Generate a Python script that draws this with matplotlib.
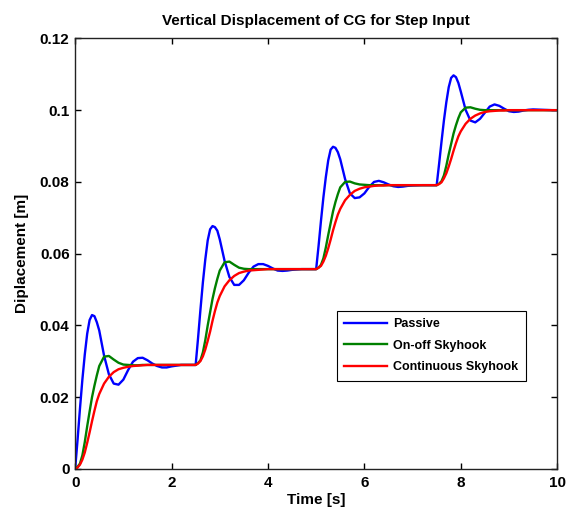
import numpy as np
import matplotlib
matplotlib.use("Agg")
import matplotlib.pyplot as plt
from matplotlib.ticker import FormatStrFormatter

plt.rcParams['font.family'] = ['Liberation Sans', 'DejaVu Sans']
plt.rcParams['font.weight'] = 'bold'

# step instants and the sample offsets used after each step
step_times = [0.0, 2.5, 5.0, 7.5]
local_t = [0, 0.05, 0.1, 0.15, 0.2, 0.25, 0.3, 0.35, 0.4, 0.45, 0.5, 0.6, 0.7,
           0.8, 0.9, 1.0, 1.1, 1.2, 1.3, 1.4, 1.5, 1.6, 1.7, 1.8, 1.9, 2.0, 2.2, 2.4]
end_time = 10.0

# Passive suspension, one list per step
passive_1 = [0.0, 0.0081, 0.0168, 0.0249, 0.0319, 0.0377, 0.0415, 0.0429, 0.0426, 0.0409,
             0.0386, 0.0316, 0.0264, 0.0238, 0.0235, 0.0249, 0.0276, 0.0299, 0.0309, 0.0310,
             0.0303, 0.0294, 0.0287, 0.0283, 0.0283, 0.0286, 0.0290, 0.0290]
passive_2 = [0.0290, 0.0365, 0.0445, 0.0520, 0.0584, 0.0637, 0.0668, 0.0677, 0.0674, 0.0664,
             0.0640, 0.0580, 0.0535, 0.0513, 0.0513, 0.0526, 0.0547, 0.0564, 0.0571, 0.0571,
             0.0566, 0.0559, 0.0553, 0.0552, 0.0553, 0.0555, 0.0557, 0.0557]
passive_3 = [0.0557, 0.0622, 0.0692, 0.0757, 0.0813, 0.0860, 0.0890, 0.0898, 0.0895, 0.0883,
             0.0863, 0.0808, 0.0768, 0.0755, 0.0757, 0.0768, 0.0786, 0.0800, 0.0803, 0.0799,
             0.0793, 0.0788, 0.0786, 0.0787, 0.0789, 0.0790, 0.0791, 0.0791]
passive_4 = [0.0791, 0.0850, 0.0912, 0.0971, 0.1022, 0.1064, 0.1090, 0.1097, 0.1092, 0.1076,
             0.1052, 0.1001, 0.0971, 0.0966, 0.0976, 0.0993, 0.1010, 0.1016, 0.1012, 0.1004,
             0.0997, 0.0995, 0.0996, 0.0999, 0.1001, 0.1002, 0.1001, 0.1000]

# On-off skyhook
onoff_1 = [0.0, 0.0006, 0.0015, 0.0038, 0.0075, 0.0119, 0.0160, 0.0200, 0.0232, 0.0261,
           0.0287, 0.0313, 0.0315, 0.0305, 0.0296, 0.0291, 0.0290, 0.0289, 0.0289, 0.0290,
           0.0290, 0.0290, 0.0290, 0.0290, 0.0290, 0.0290, 0.0290, 0.0290]
onoff_2 = [0.0290, 0.0295, 0.0303, 0.0325, 0.0359, 0.0400, 0.0437, 0.0474, 0.0504, 0.0530,
           0.0553, 0.0576, 0.0578, 0.0569, 0.0561, 0.0558, 0.0557, 0.0557, 0.0557, 0.0557,
           0.0557, 0.0557, 0.0557, 0.0557, 0.0557, 0.0557, 0.0557, 0.0557]
onoff_3 = [0.0557, 0.0561, 0.0569, 0.0587, 0.0617, 0.0652, 0.0685, 0.0718, 0.0744, 0.0766,
           0.0785, 0.0800, 0.0801, 0.0796, 0.0793, 0.0792, 0.0791, 0.0791, 0.0791, 0.0791,
           0.0791, 0.0791, 0.0791, 0.0791, 0.0791, 0.0791, 0.0791, 0.0791]
onoff_4 = [0.0791, 0.0795, 0.0802, 0.0818, 0.0845, 0.0877, 0.0906, 0.0935, 0.0958, 0.0978,
           0.0994, 0.1007, 0.1008, 0.1004, 0.1001, 0.1000, 0.1000, 0.1000, 0.1000, 0.1000,
           0.1000, 0.1000, 0.1000, 0.1000, 0.1000, 0.1000, 0.1000, 0.1000]

# Continuous skyhook
cont_1 = [0.0, 0.0004, 0.0012, 0.0026, 0.0046, 0.0073, 0.0102, 0.0133, 0.0162, 0.0189,
          0.0209, 0.0238, 0.0257, 0.0270, 0.0278, 0.0282, 0.0285, 0.0287, 0.0288, 0.0289,
          0.0290, 0.0290, 0.0290, 0.0290, 0.0290, 0.0290, 0.0290, 0.0290]
cont_2 = [0.0290, 0.0294, 0.0301, 0.0314, 0.0333, 0.0357, 0.0383, 0.0413, 0.0440, 0.0464,
          0.0482, 0.0509, 0.0526, 0.0538, 0.0546, 0.0550, 0.0553, 0.0554, 0.0555, 0.0556,
          0.0557, 0.0557, 0.0557, 0.0557, 0.0557, 0.0557, 0.0557, 0.0557]
cont_3 = [0.0557, 0.0561, 0.0566, 0.0578, 0.0594, 0.0615, 0.0639, 0.0665, 0.0688, 0.0709,
          0.0725, 0.0749, 0.0764, 0.0775, 0.0781, 0.0785, 0.0787, 0.0789, 0.0790, 0.0790,
          0.0791, 0.0791, 0.0791, 0.0791, 0.0791, 0.0791, 0.0791, 0.0791]
cont_4 = [0.0791, 0.0794, 0.0799, 0.0810, 0.0824, 0.0843, 0.0864, 0.0887, 0.0908, 0.0927,
          0.0941, 0.0962, 0.0976, 0.0985, 0.0991, 0.0995, 0.0997, 0.0998, 0.0999, 0.0999,
          0.1000, 0.1000, 0.1000, 0.1000, 0.1000, 0.1000, 0.1000, 0.1000]
final_value = 0.1000

x_ticks = [0, 2, 4, 6, 8, 10]
y_ticks = [0, 0.02, 0.04, 0.06, 0.08, 0.1, 0.12]


def series(parts):
    return np.array(sum(parts, []) + [final_value])


time_s = np.array([t0 + lt for t0 in step_times for lt in local_t] + [end_time])
passive = series([passive_1, passive_2, passive_3, passive_4])
onoff = series([onoff_1, onoff_2, onoff_3, onoff_4])
cont = series([cont_1, cont_2, cont_3, cont_4])

fig = plt.figure(figsize=(5.78, 5.12), dpi=100)
ax = fig.add_axes([0.130, 0.084, 0.834, 0.841])

ax.plot(time_s, passive, color=(0, 0, 1), lw=1.7, label='Passive')
ax.plot(time_s, onoff, color=(0, 0.5, 0), lw=1.7, label='On-off Skyhook')
ax.plot(time_s, cont, color=(1, 0, 0), lw=1.7, label='Continuous Skyhook')

ax.set_xlim(0, 10)
ax.set_ylim(0, 0.12)
ax.set_xticks(x_ticks)
ax.set_yticks(y_ticks)
ax.yaxis.set_major_formatter(FormatStrFormatter('%g'))
ax.tick_params(axis='both', direction='in', top=True, right=True, length=4, width=1,
               labelsize=11)
ax.tick_params(axis='x', pad=5)
ax.tick_params(axis='y', pad=4)
for lab in ax.get_xticklabels() + ax.get_yticklabels():
    lab.set_fontweight('bold')
for sp in ax.spines.values():
    sp.set_linewidth(1.0)
    sp.set_color('#222222')

ax.set_title('Vertical Displacement of CG for Step Input', fontsize=11,
             fontweight='bold', pad=10)
ax.set_xlabel('Time [s]', fontsize=11, fontweight='bold', labelpad=2)
ax.set_ylabel('Diplacement [m]', fontsize=11, fontweight='bold', labelpad=8)

leg = ax.legend(loc='lower right', bbox_to_anchor=(0.935, 0.205), borderaxespad=0,
                fancybox=False, edgecolor='black', framealpha=1, handlelength=3.4,
                handletextpad=0.5, prop={'size': 9, 'weight': 'bold'},
                borderpad=0.6, labelspacing=0.75)
leg.get_frame().set_linewidth(0.8)

fig.savefig('out.png', dpi=100)
